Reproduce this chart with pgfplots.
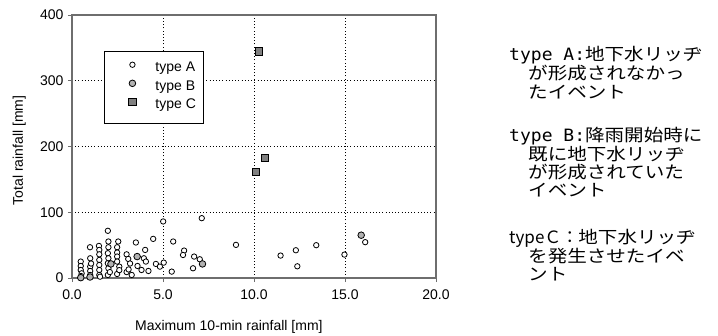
\documentclass[border=0pt]{standalone}
\usepackage{fontspec}
\setmainfont{Liberation Sans}
\newfontfamily\jp[FakeStretch=1.15]{Noto Sans CJK JP}
\newfontfamily\jpc{Noto Sans CJK JP}
\newfontfamily\jpl[FakeStretch=1.06]{DejaVu Sans Mono}
\usepackage{pgfplots}
\pgfplotsset{compat=1.18}
\definecolor{axgray}{RGB}{110,110,110}
\definecolor{bfill}{RGB}{178,178,178}
\definecolor{cfill}{RGB}{128,128,128}
\begin{document}
\begin{tikzpicture}
\begin{axis}[
  at={(72bp,58bp)}, anchor=south west,
  scale only axis, width=364bp, height=263bp,
  xmin=0, xmax=20, ymin=0, ymax=400,
  xtick={0,5,10,15,20}, ytick={0,100,200,300,400},
  xtick pos=lower, ytick pos=left,
  /pgf/number format/assume math mode=true,
  xticklabel style={/pgf/number format/fixed, /pgf/number format/fixed zerofill, /pgf/number format/precision=1, yshift=-4bp},
  tick label style={font=\fontsize{14bp}{16bp}\selectfont},
  yticklabel style={xshift=-1bp},
  axis line style={draw=axgray, line width=1.2bp},
  tick style={draw=axgray, line width=0.8bp},
  tick align=outside, major tick length=4bp,
  grid=major, grid style={draw=black, line width=0.9bp, dash pattern=on 1bp off 2.2bp},
  xlabel={Maximum 10-min rainfall [mm]},
  ylabel={Total rainfall [mm]},
  label style={font=\fontsize{14bp}{16bp}\selectfont},
  xlabel style={at={(axis description cs:0.431,-0.186)}, anchor=center},
  ylabel style={at={(axis description cs:-0.145,0.485)}, anchor=center},
  legend style={at={(0.088,0.863)}, anchor=north west, draw=black, line width=0.8bp, fill=white,
    font=\fontsize{14bp}{16bp}\selectfont, inner xsep=6bp, inner ysep=8bp, row sep=0bp,
    nodes={text height=10bp, text depth=4bp, inner ysep=2.3bp}},
  legend cell align=left,
  legend image code/.code={\path[draw=none,fill=none] (-26bp,0bp) -- (17bp,0bp); \draw[only marks,#1] plot coordinates {(-4bp,4bp)};},
]
\addplot[only marks, mark=*, mark size=2.7bp, mark options={draw=black, fill=white, line width=0.8bp}] coordinates {
(0.48,25) (0.48,18.3) (0.48,12.2) (0.53,7.1) (0.5,3)
(0.99,46.8) (1.0,30) (1.0,17.3) (1.0,10.7) (1.0,4.6) (1.05,22)
(1.48,48.8) (1.5,42.7) (1.5,36) (1.5,27.5) (1.5,19.8) (1.5,12.2) (1.5,4.6) (1.54,2)
(1.97,71.8) (2.0,55.5) (2.0,46.8) (1.97,37.7) (2.0,30) (1.97,22.4) (2.0,14.8) (1.97,4.6) (2.08,9)
(2.54,55.5) (2.48,46.8) (2.48,38.7) (2.48,32.6) (2.48,25) (2.6,17.3) (2.48,6.1) (2.6,12)
(3.0,36) (3.09,29) (3.19,22) (3.0,9) (3.28,4.6) (3.11,13)
(3.51,54) (4.02,42.7) (3.95,30) (3.82,12.2) (3.6,18.3) (4.06,25) (4.2,10.7) (4.46,59.5)
(4.61,21.4) (4.83,17.3) (5.01,86) (5.04,23.4) (5.48,9.7) (5.56,55.5) (6.16,41.7) (6.1,35)
(6.71,32.6) (7.02,28.5) (6.65,14.8) (7.13,91) (9.01,50.4) (11.46,34.1) (12.30,42.2)
(12.38,17.8) (13.42,49.9) (14.97,35.6) (16.11,54.5)
};
\addlegendentry{type A}
\addplot[only marks, mark=*, mark size=3.3bp, mark options={draw=black, fill=bfill, line width=0.8bp}] coordinates {
(0.48,0.5) (0.99,1.5) (2.14,21.4) (3.58,32.6) (7.17,21.4) (15.89,65.1)
};
\addlegendentry{type B}
\addplot[only marks, mark=square*, mark size=3.6bp, mark options={draw=black, fill=cfill, line width=0.8bp}] coordinates {
(10.26,344.5) (10.62,182.7) (10.11,160.8)
};
\addlegendentry{type C}
\end{axis}
\begin{scope}[every node/.style={anchor=west, inner sep=0pt, text height=13bp, text depth=3bp, font=\fontsize{17bp}{18bp}\selectfont}]
\node at (509bp,280bp) {\jpl type A:\jp 地下水リッヂ};
\node at (528bp,261bp) {\jp が形成されなかっ};
\node at (528bp,242bp) {\jp たイベント};
\node at (509bp,199bp) {\jpl type B:\jp 降雨開始時に};
\node at (528bp,180.5bp) {\jp 既に地下水リッヂ};
\node at (528bp,162bp) {\jp が形成されていた};
\node at (528bp,144bp) {\jp イベント};
\node at (509bp,97bp) {\jpc typeＣ：\jp 地下水リッヂ};
\node at (528bp,78.5bp) {\jp を発生させたイベ};
\node at (528bp,60.5bp) {\jp ント};
\end{scope}
\pgfresetboundingbox
\path[use as bounding box] (0bp,0bp) rectangle (718bp,336bp);
\end{tikzpicture}
\end{document}
